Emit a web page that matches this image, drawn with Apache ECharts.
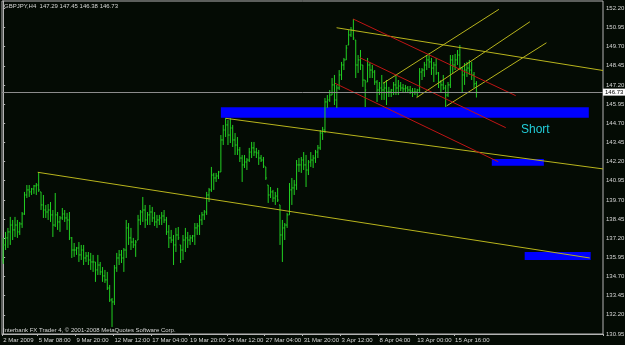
<!DOCTYPE html>
<html>
<head>
<meta charset="utf-8">
<script src="https://cdn.jsdelivr.net/npm/echarts@6/dist/echarts.min.js"></script>
<style>
html, body { margin: 0; padding: 0; background: #040b04; }
#chart { width: 625px; height: 345px; }
</style>
</head>
<body>
<div id="chart"></div>
<script>
// GBPJPY H4 bars
const tickLabels = ['2 Mar 2009', '5 Mar 08:00', '9 Mar 20:00', '12 Mar 12:00', '17 Mar 04:00', '19 Mar 20:00',
  '24 Mar 12:00', '27 Mar 04:00', '31 Mar 20:00', '3 Apr 12:00', '8 Apr 04:00', '13 Apr 00:00', '15 Apr 16:00'];
const tickBars = [0, 15, 31, 47, 63, 79, 95, 111, 127, 143, 159, 175, 191];
const slotCount = 254; // bars + empty chart shift on the right

const open = [135.78,136.76,137.22,137.61,138.06,137.74,138.06,137.61,138.13,138.78,
  140.02,140.35,140.22,140.41,140.61,140.67,140.22,139.37,139.04,138.91,
  139.04,138.72,138.06,138.72,138.26,138.52,138.78,138.52,138.39,137.22,
  136.43,136.43,136.56,136.11,136.43,135.91,136.04,135.78,135.65,135.65,
  135.13,135.45,135.00,134.74,134.48,133.95,133.17,133.04,135.26,135.91,
  136.11,135.91,136.43,137.87,137.22,136.95,136.76,137.08,138.39,138.91,
  139.04,138.39,138.72,138.91,138.52,138.26,138.39,138.52,138.65,138.39,
  137.61,137.22,137.08,136.76,137.41,136.76,136.43,137.08,137.22,137.08,
  137.22,137.35,137.87,138.00,138.39,138.72,138.91,140.02,140.35,141.32,
  141.13,141.26,141.52,143.61,144.26,144.59,143.93,144.39,143.61,143.28,
  142.96,142.43,141.98,142.17,142.30,142.82,143.09,142.82,142.76,142.43,
  142.30,141.85,140.67,140.02,140.22,139.82,139.95,139.37,137.41,137.87,
  138.06,138.72,140.35,140.48,140.67,141.98,141.98,142.30,141.98,141.65,
  142.17,142.30,142.43,142.82,143.09,144.06,144.26,146.09,146.22,146.54,
  147.20,146.22,147.00,147.85,148.50,148.83,149.80,150.46,150.78,150.13,
  148.50,148.83,148.50,147.52,147.39,148.50,148.17,148.04,147.39,146.87,
  147.00,146.87,147.00,146.74,146.74,146.87,147.20,147.00,147.13,147.00,
  146.94,147.00,146.87,146.80,146.74,146.74,146.87,148.04,148.17,148.50,
  148.83,148.70,148.30,148.50,147.98,147.39,147.20,147.00,146.54,147.20,
  148.83,148.50,148.83,149.15,148.30,147.85,148.17,148.30,148.17,147.85,
  147.29];
const high = [137.22,137.61,137.87,138.59,138.39,138.59,138.39,138.26,138.91,140.22,
  140.67,140.67,140.48,140.67,140.80,141.52,140.22,140.02,139.37,139.43,
  139.56,139.04,140.15,138.91,138.65,139.17,139.04,138.85,138.91,137.28,
  136.89,136.63,136.95,136.76,136.76,136.30,136.30,136.24,136.11,135.65,
  136.11,135.65,135.32,135.13,135.00,134.15,133.30,135.45,136.24,136.43,
  136.43,136.56,138.39,138.19,137.87,137.22,137.08,138.72,139.04,139.89,
  139.37,138.91,139.37,139.24,138.91,138.72,138.72,138.91,139.04,138.59,
  138.06,137.74,137.41,137.87,137.93,136.76,137.41,137.87,137.61,137.41,
  137.41,138.19,138.19,138.72,138.91,139.04,140.22,140.48,141.85,141.46,
  141.46,141.59,143.93,144.59,145.04,144.91,145.04,144.59,144.06,143.80,
  143.15,142.63,142.63,142.43,143.09,143.48,143.48,143.09,142.96,142.63,
  142.50,141.85,140.67,140.54,140.35,140.22,140.48,139.37,138.39,138.19,
  138.85,140.80,141.13,141.00,142.30,142.43,142.50,142.82,142.63,142.30,
  142.82,142.63,142.96,143.28,144.26,144.46,146.35,146.54,146.87,147.65,
  147.85,147.20,148.17,148.70,148.96,149.80,150.78,150.98,151.50,150.13,
  149.15,149.48,148.50,147.52,148.96,148.63,148.50,148.17,147.52,147.39,
  147.85,147.39,147.52,147.07,146.94,147.39,147.85,147.52,147.39,147.26,
  147.20,147.13,147.13,147.00,147.00,146.94,148.30,148.30,148.70,149.15,
  149.28,148.96,148.70,148.96,148.04,147.52,147.85,147.20,147.39,149.15,
  149.15,149.22,149.48,149.80,148.37,148.63,148.70,148.83,148.70,148.04,
  147.45];
const low = [135.52,136.43,136.56,136.76,137.08,137.28,137.22,137.41,137.87,138.72,
  139.82,139.89,140.02,140.09,140.02,140.22,139.04,138.52,138.52,138.39,
  138.26,137.28,137.93,137.74,137.61,138.39,138.26,137.74,137.08,135.91,
  135.98,136.11,135.65,135.78,135.45,135.65,135.45,135.13,135.00,134.35,
  134.80,134.80,134.35,134.28,133.82,133.04,131.41,132.84,135.00,135.45,
  135.58,135.00,135.91,136.76,136.43,136.56,135.98,137.08,138.06,138.26,
  137.87,138.06,138.06,138.26,138.00,137.87,138.06,138.06,138.19,137.41,
  136.56,136.89,135.45,136.30,137.08,135.58,135.78,136.30,136.56,136.76,
  136.95,136.76,137.41,137.41,138.06,138.39,138.72,139.56,140.22,140.35,
  140.87,141.06,141.52,143.28,143.80,143.28,143.41,143.15,142.63,142.63,
  142.17,140.87,141.78,141.65,142.17,142.43,142.56,142.43,141.98,142.17,
  141.78,141.00,139.50,139.82,139.56,139.37,139.56,136.76,135.65,137.08,
  137.87,138.72,139.37,140.02,140.35,141.52,141.46,141.65,140.54,141.32,
  141.85,141.78,142.11,142.43,142.96,143.61,144.06,145.70,146.09,146.54,
  145.89,145.70,146.87,147.52,148.17,148.83,149.80,150.33,150.13,147.65,
  147.98,148.17,147.07,145.76,147.39,147.65,147.65,147.20,146.09,146.54,
  146.22,146.22,145.89,146.41,146.41,146.54,146.54,146.54,146.80,146.67,
  146.74,146.67,146.61,146.41,146.54,146.41,146.74,147.52,147.72,148.17,
  148.30,147.85,147.39,147.85,147.00,146.74,146.87,145.76,146.41,147.00,
  147.98,148.17,148.50,148.17,146.67,147.20,147.72,147.85,147.52,147.00,
  146.38];
const close = [136.76,137.22,137.61,138.06,137.74,138.06,137.61,138.13,138.78,140.02,
  140.35,140.22,140.41,140.61,140.67,140.35,139.37,139.04,138.91,139.04,
  138.72,138.06,138.72,138.26,138.52,138.78,138.52,138.39,137.22,136.43,
  136.43,136.56,136.11,136.43,135.91,136.04,135.78,135.65,135.65,135.13,
  135.45,135.00,134.74,134.48,133.95,133.17,133.04,135.26,135.91,136.11,
  135.91,136.43,137.87,137.22,136.95,136.76,136.95,138.39,138.91,139.04,
  138.39,138.72,138.91,138.52,138.26,138.39,138.52,138.65,138.39,137.61,
  137.22,137.08,136.76,137.41,137.22,136.43,137.08,137.22,137.08,137.22,
  137.35,137.87,138.00,138.39,138.72,138.91,140.02,140.35,141.32,141.13,
  141.26,141.52,143.61,144.26,144.59,143.93,144.39,143.61,143.28,142.96,
  142.43,141.98,142.17,142.30,142.82,143.09,142.82,142.76,142.43,142.30,
  141.91,141.13,140.02,140.22,139.82,139.95,139.69,137.41,137.87,138.06,
  138.72,140.35,140.48,140.67,141.98,141.98,142.30,141.98,141.65,142.17,
  142.30,142.43,142.82,143.09,144.06,144.26,146.09,146.22,146.54,147.20,
  146.22,147.00,147.85,148.50,148.83,149.61,150.46,150.78,150.26,148.50,
  148.83,148.50,147.52,146.87,148.50,148.17,148.04,147.39,146.87,147.00,
  146.87,147.00,146.74,146.74,146.87,147.20,147.00,147.13,147.00,146.94,
  147.00,146.87,146.80,146.74,146.74,146.87,148.04,148.17,148.50,148.83,
  148.70,148.30,148.50,147.98,147.39,147.20,147.00,146.54,147.20,148.83,
  148.50,148.83,149.15,148.30,147.85,148.17,148.30,148.17,147.85,147.26,
  146.73];

// drawn objects: [barIndex, price] end points
const yellowLines = [
  [[14.6, 141.50], [247.9, 135.91]],
  [[94.1, 145.02], [253.5, 141.72]],
  [[140.9, 150.93], [253.5, 148.14]],
  [[160.6, 147.31], [209.5, 152.13]],
  [[174.7, 146.37], [222.6, 151.32]],
  [[187.4, 145.83], [229.6, 149.95]]
];
const redLines = [
  [[147.9, 151.50], [216.6, 146.50]],
  [[150.7, 148.98], [212.4, 144.41]],
  [[140.2, 147.31], [209.2, 142.19]]
];
const zones = [
  [[92.0, 145.74], [247.5, 145.06]],
  [[206.5, 142.37], [228.5, 141.93]],
  [[220.4, 136.30], [248.3, 135.78]]
];
const lastPrice = 146.73;

const font = 'Liberation Sans, Arial, sans-serif';
const slots = Array.from({ length: slotCount }, (_, i) => String(i));
const ohlc = open.map((o, i) => [i, o, close[i], low[i], high[i]]);

const barColor = '#22d022';

function renderBar(params, api) {
  const i = api.value(0);
  const o = api.coord([i, api.value(1)]);
  const c = api.coord([i, api.value(2)]);
  const l = api.coord([i, api.value(3)]);
  const h = api.coord([i, api.value(4)]);
  const x = h[0];
  const st = { stroke: barColor, lineWidth: 1 };
  return {
    type: 'group',
    children: [
      { type: 'line', shape: { x1: x, y1: h[1], x2: x, y2: l[1] }, style: st },
      { type: 'line', shape: { x1: x - 1, y1: o[1], x2: x, y2: o[1] }, style: st },
      { type: 'line', shape: { x1: x, y1: c[1], x2: x + 1, y2: c[1] }, style: st }
    ]
  };
}

const lineSeries = [];
yellowLines.forEach(seg => lineSeries.push({
  type: 'line', xAxisIndex: 1, yAxisIndex: 0, data: seg, symbol: 'none', z: 4,
  silent: true, lineStyle: { color: '#b8b41c', width: 1 }
}));
redLines.forEach(seg => lineSeries.push({
  type: 'line', xAxisIndex: 1, yAxisIndex: 0, data: seg, symbol: 'none', z: 4,
  silent: true, lineStyle: { color: '#c01414', width: 1 }
}));

let myChart = echarts.init(document.getElementById('chart'));
myChart.setOption({
  backgroundColor: '#040b04',
  animation: false,
  grid: {
    left: 2, right: 22, top: 1, bottom: 11,
    show: true, borderColor: '#b4b4b4', borderWidth: 1,
    outerBoundsMode: 'none'
  },
  xAxis: [
    {
      type: 'category',
      data: slots,
      boundaryGap: true,
      axisLine: { show: true, lineStyle: { color: '#b4b4b4' } },
      axisTick: {
        show: true, length: 2, inside: false,
        interval: idx => tickBars.includes(idx),
        lineStyle: { color: '#b4b4b4' }
      },
      axisLabel: {
        interval: idx => tickBars.includes(idx),
        formatter: (v, idx) => tickLabels[tickBars.indexOf(idx)],
        align: 'left', margin: 3,
        color: '#d8d8d8', fontSize: 6, fontFamily: font
      },
      splitLine: { show: false }
    },
    { type: 'value', min: -0.5, max: slotCount - 0.5, show: false }
  ],
  yAxis: {
    type: 'value',
    position: 'right',
    min: 130.95,
    max: 152.675,
    interval: 1.25,
    axisLine: { show: true, lineStyle: { color: '#b4b4b4' } },
    axisTick: { show: true, length: 2, lineStyle: { color: '#b4b4b4' } },
    axisLabel: {
      showMaxLabel: false,
      formatter: v => v.toFixed(2),
      margin: 3, color: '#d8d8d8', fontSize: 6, fontFamily: font
    },
    splitLine: { show: false }
  },
  graphic: [
    {
      type: 'text', left: 4, top: 3, z: 10,
      style: { text: 'GBPJPY,H4  147.29 147.45 146.38 146.73', fill: '#d8d8d8', font: '6px ' + font }
    },
    {
      type: 'text', left: 3, top: 327, z: 10,
      style: { text: 'Interbank FX Trader 4, \u00a9 2001-2008 MetaQuotes Software Corp.', fill: '#d8d8d8', font: '6px ' + font }
    },
    {
      type: 'text', x: 521, y: 130, z: 10,
      style: { text: 'Short', fill: '#22cdd8', font: '12px ' + font, verticalAlign: 'middle' }
    }
  ],
  series: [
    {
      type: 'line',
      xAxisIndex: 1,
      yAxisIndex: 0,
      data: [],
      z: 1,
      silent: true,
      markArea: {
        silent: true,
        itemStyle: { color: '#0000ff', opacity: 1 },
        data: zones.map(z => [{ coord: z[0] }, { coord: z[1] }])
      },
      markLine: {
        silent: true,
        symbol: 'none',
        lineStyle: { color: '#8c8c8c', type: 'solid', width: 1 },
        label: {
          position: 'end', distance: 0,
          formatter: lastPrice.toFixed(2),
          backgroundColor: '#ffffff', color: '#000000',
          fontSize: 6, fontFamily: font, padding: [1, 2, 0, 2]
        },
        data: [{ yAxis: lastPrice }]
      }
    },
    {
      type: 'custom',
      xAxisIndex: 0,
      yAxisIndex: 0,
      z: 3,
      clip: true,
      renderItem: renderBar,
      encode: { x: 0, y: [1, 2, 3, 4] },
      data: ohlc
    }
  ].concat(lineSeries)
});
</script>
</body>
</html>
